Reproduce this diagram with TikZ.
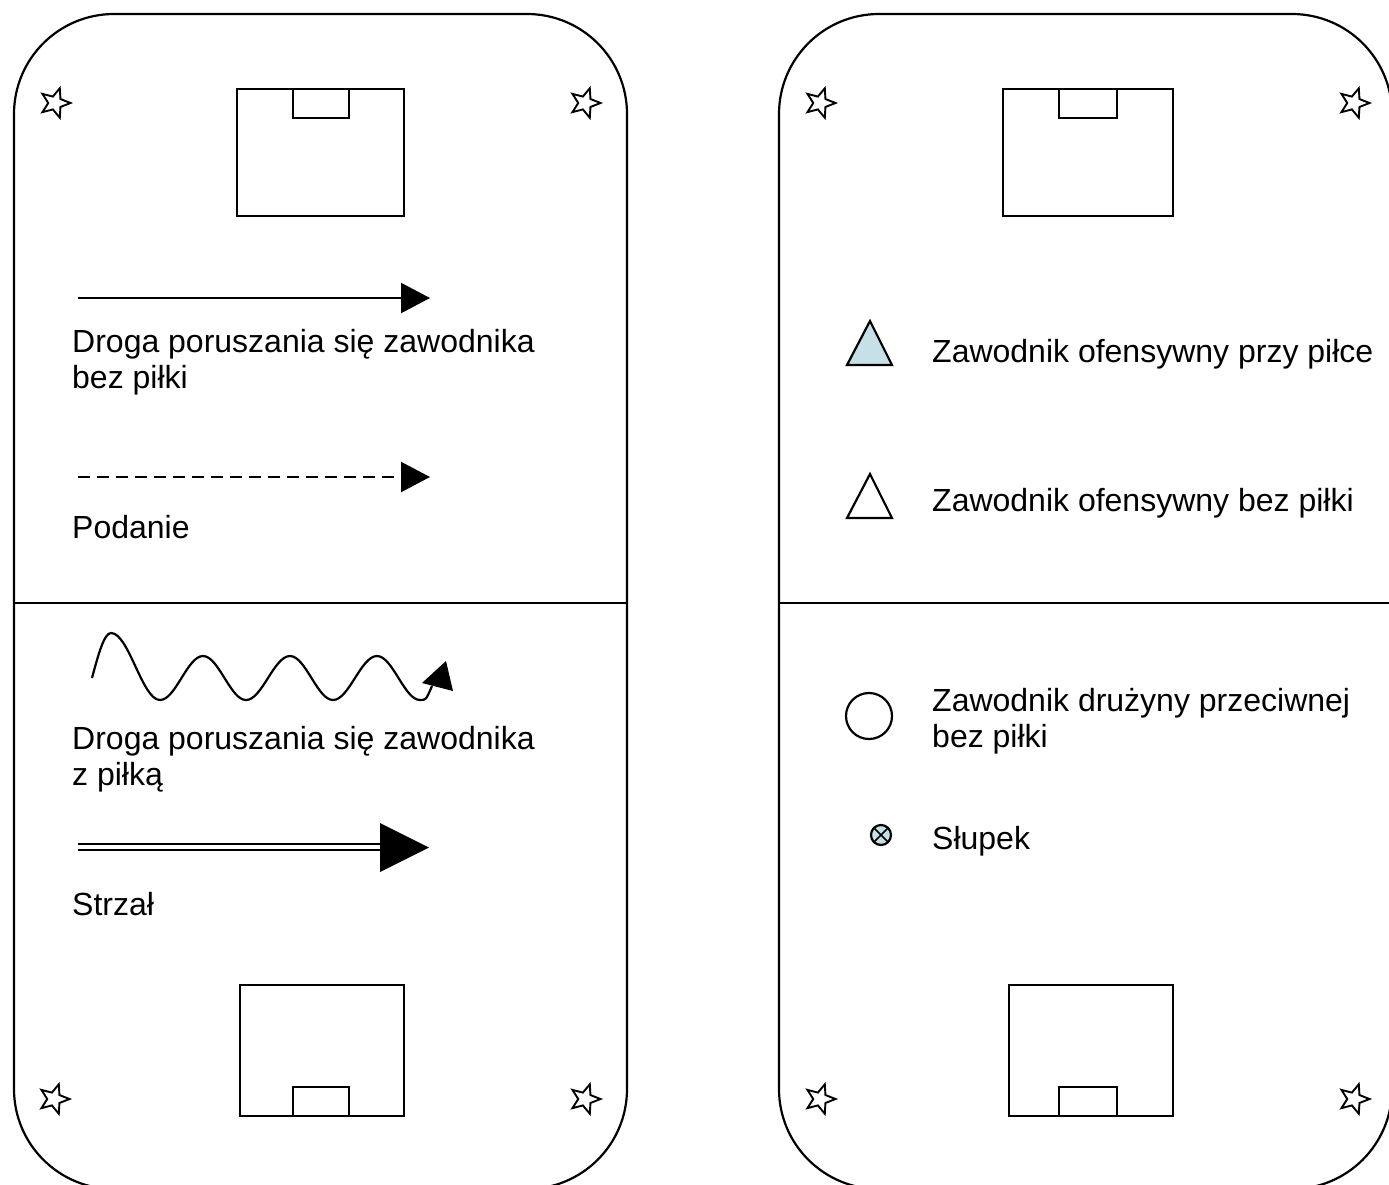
\documentclass[tikz,border=0pt]{standalone}
\usepackage{fontspec}
\setmainfont{Liberation Sans}
\usetikzlibrary{shapes.geometric,arrows.meta}
\definecolor{playerblue}{HTML}{C6E0E8}
\tikzset{
  lw/.style={line width=2.2pt},
  panel/.style={lw, rounded corners=100pt},
  flagstar/.style={star, star points=5, star point ratio=2.3, minimum size=31pt,
    inner sep=0pt, draw, line width=1.9pt, rotate=-90},
  goalbox/.style={lw},
  lbl/.style={anchor=base west, inner sep=0pt, font=\fontsize{32}{36}\selectfont},
  headtip/.style={-{Triangle[length=29pt,width=30pt]}},
}
\begin{document}
\begin{tikzpicture}[x=1pt,y=-1pt]
\useasboundingbox (0,0) rectangle (1389,1184);
\clip (0,0) rectangle (1389,1184);

% ---------- left pitch ----------
\draw[panel] (14,14) rectangle (627,1189);
\draw[lw] (14,603) -- (627,603);
\draw[goalbox] (237,89) rectangle (404,216);
\draw[goalbox] (293,89) rectangle (349,118);
\draw[goalbox] (240,985) rectangle (404,1116);
\draw[goalbox] (293,1087) rectangle (349,1116);
\node[flagstar] (ltl) at (55,103) {};
\node[flagstar] (ltr) at (585,103) {};
\node[flagstar] (lbl) at (54,1099) {};
\node[flagstar] (lbr) at (585,1099) {};

% run without the ball
\coordinate (runA) at (78,298);
\coordinate (runB) at (430,298);
\draw[lw, headtip] (runA) -- (runB);
\node[lbl] (runT1) at (72,352) {Droga poruszania się zawodnika};
\node[lbl] (runT2) at (72,388) {bez piłki};

% pass
\coordinate (passA) at (78,477);
\coordinate (passB) at (430,477);
\draw[lw, dash pattern=on 12pt off 7pt, headtip] (passA) -- (passB);
\node[lbl] (passT) at (72,538) {Podanie};

% dribble
\draw[lw, line join=round] (92,678) sin (111,633) cos (135.5,666.5) sin (160,700)
  cos (181.5,678) sin (203,656) cos (224.5,678) sin (246,700)
  cos (268,678) sin (290,656) cos (311.5,678) sin (333,700)
  cos (355,678) sin (377,656) cos (398.5,678) sin (420,700)
  .. controls (426,700) .. (432,686);
\fill (422,683) -- (446,661) -- (453,691) -- cycle;
\node[lbl] (dribT1) at (72,749) {Droga poruszania się zawodnika};
\node[lbl] (dribT2) at (72,785) {z piłką};

% shot
\coordinate (shotA) at (78,847);
\coordinate (shotB) at (381,847);
\draw[line width=2.2pt, double distance=4.2pt] (shotA) -- (shotB);
\fill (380,823) -- (429,847.5) -- (380,872) -- cycle;
\node[lbl] (shotT) at (72,915) {Strzał};

% ---------- right pitch ----------
\draw[panel] (779,14) rectangle (1392,1189);
\draw[lw] (779,603) -- (1392,603);
\draw[goalbox] (1003,89) rectangle (1173,216);
\draw[goalbox] (1059,89) rectangle (1117,118);
\draw[goalbox] (1009,985) rectangle (1173,1116);
\draw[goalbox] (1059,1087) rectangle (1117,1116);
\node[flagstar] (rtl) at (820,103) {};
\node[flagstar] (rtr) at (1354,103) {};
\node[flagstar] (rbl) at (820,1099) {};
\node[flagstar] (rbr) at (1354,1099) {};

% legend symbols
\draw[lw, line join=miter, fill=playerblue] (847,365) -- (870,321) -- (892,365) -- cycle;
\node[lbl] (attBall) at (932,362) {Zawodnik ofensywny przy piłce};
\draw[lw, line join=miter] (847,518) -- (870,474) -- (892,518) -- cycle;
\node[lbl] (attNo) at (932,511) {Zawodnik ofensywny bez piłki};
\draw[lw] (869,716) circle[radius=23pt];
\node[lbl] (oppT1) at (932,711) {Zawodnik drużyny przeciwnej};
\node[lbl] (oppT2) at (932,747) {bez piłki};
\draw[lw, fill=playerblue] (881,835) circle[radius=10pt];
\draw[line width=1.7pt] (874.5,828.5) -- (887.5,841.5) (887.5,828.5) -- (874.5,841.5);
\node[lbl] (postT) at (932,849) {Słupek};
\end{tikzpicture}
\end{document}
